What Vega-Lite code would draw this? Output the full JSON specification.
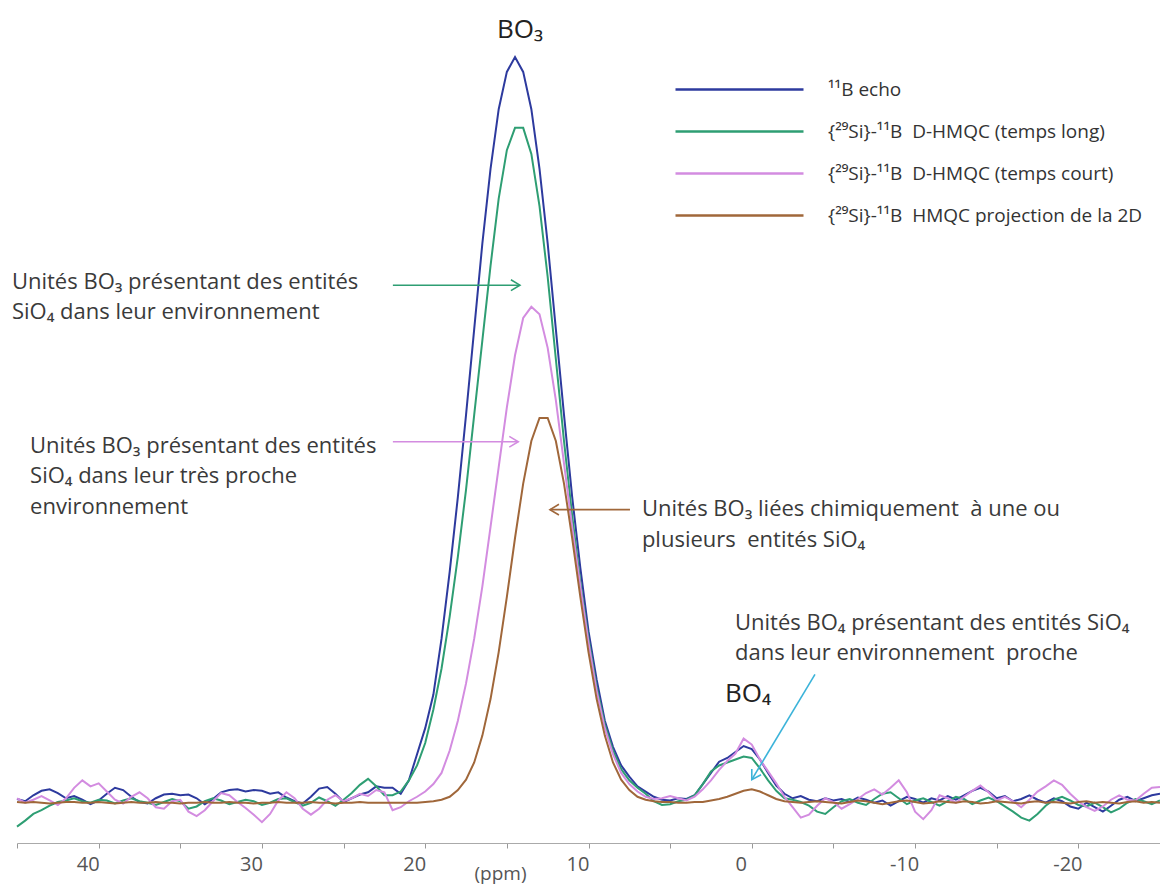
{
  "$schema": "https://vega.github.io/schema/vega-lite/v6.json",
  "width": 1143,
  "height": 833,
  "autosize": {"type": "none"},
  "padding": {"left": 17, "top": 10, "right": 0, "bottom": 41},
  "background": "white",
  "config": {"view": {"stroke": null}, "font": "Open Sans"},
  "datasets": {
    "spec": [
      {"x":45,"e":0.5,"g":-3.2,"p":0.6,"b":0.1},
      {"x":44.5,"e":0.2,"g":-2.4,"p":0.0,"b":0.0},
      {"x":44,"e":1.0,"g":-1.5,"p":0.4,"b":0.1},
      {"x":43.5,"e":1.6,"g":-1.0,"p":0.9,"b":0.0},
      {"x":43,"e":1.8,"g":-0.4,"p":0.3,"b":-0.1},
      {"x":42.5,"e":1.3,"g":0.1,"p":-0.3,"b":0.0},
      {"x":42,"e":0.6,"g":0.3,"p":0.6,"b":0.1},
      {"x":41.5,"e":0.9,"g":0.6,"p":2.0,"b":0.1},
      {"x":41,"e":0.4,"g":0.2,"p":3.0,"b":0.0},
      {"x":40.5,"e":-0.2,"g":0.0,"p":2.2,"b":0.0},
      {"x":40,"e":0.3,"g":0.4,"p":2.6,"b":0.1},
      {"x":39.5,"e":1.2,"g":0.3,"p":1.5,"b":0.0},
      {"x":39,"e":2.0,"g":-0.1,"p":0.4,"b":-0.1},
      {"x":38.5,"e":1.7,"g":0.3,"p":-0.1,"b":0.0},
      {"x":38,"e":0.8,"g":0.6,"p":0.8,"b":0.1},
      {"x":37.5,"e":0.1,"g":0.2,"p":1.4,"b":0.0},
      {"x":37,"e":-0.1,"g":0.0,"p":0.6,"b":0.0},
      {"x":36.5,"e":0.6,"g":-0.3,"p":-0.6,"b":0.1},
      {"x":36,"e":1.1,"g":0.1,"p":-0.8,"b":0.0},
      {"x":35.5,"e":1.2,"g":0.5,"p":0.2,"b":0.0},
      {"x":35,"e":1.0,"g":0.2,"p":0.4,"b":-0.1},
      {"x":34.5,"e":1.1,"g":-0.8,"p":-1.2,"b":0.0},
      {"x":34,"e":0.6,"g":-0.5,"p":-1.8,"b":0.0},
      {"x":33.5,"e":-0.2,"g":0.2,"p":-1.0,"b":0.1},
      {"x":33,"e":0.5,"g":0.6,"p":0.2,"b":0.0},
      {"x":32.5,"e":1.4,"g":0.3,"p":1.3,"b":0.0},
      {"x":32,"e":1.7,"g":-0.2,"p":1.0,"b":0.1},
      {"x":31.5,"e":1.8,"g":0.1,"p":0.1,"b":0.0},
      {"x":31,"e":1.5,"g":0.4,"p":-0.7,"b":0.0},
      {"x":30.5,"e":1.7,"g":0.2,"p":-1.6,"b":-0.1},
      {"x":30,"e":1.6,"g":-0.3,"p":-2.6,"b":0.0},
      {"x":29.5,"e":1.2,"g":0.0,"p":-1.5,"b":0.0},
      {"x":29,"e":1.4,"g":0.5,"p":0.3,"b":0.1},
      {"x":28.5,"e":0.7,"g":0.6,"p":1.4,"b":0.0},
      {"x":28,"e":0.2,"g":0.1,"p":0.6,"b":0.0},
      {"x":27.5,"e":-0.1,"g":-0.4,"p":-0.8,"b":0.0},
      {"x":27,"e":0.8,"g":0.0,"p":-1.6,"b":0.1},
      {"x":26.5,"e":1.9,"g":0.7,"p":-0.8,"b":0.0},
      {"x":26,"e":2.1,"g":0.2,"p":0.4,"b":0.0},
      {"x":25.5,"e":1.2,"g":-0.4,"p":1.0,"b":-0.1},
      {"x":25,"e":0.1,"g":0.4,"p":0.2,"b":0.0},
      {"x":24.5,"e":0.6,"g":1.3,"p":0.6,"b":0.0},
      {"x":24,"e":1.1,"g":2.4,"p":1.2,"b":0.1},
      {"x":23.5,"e":1.4,"g":3.2,"p":0.9,"b":0.0},
      {"x":23,"e":2.2,"g":2.2,"p":1.7,"b":0.0},
      {"x":22.5,"e":2.0,"g":1.0,"p":1.4,"b":0.0},
      {"x":22,"e":2.0,"g":1.0,"p":-1.0,"b":0.0},
      {"x":21.5,"e":1.2,"g":1.5,"p":-0.6,"b":0.0},
      {"x":21,"e":3.0,"g":3.0,"p":0.2,"b":0.0},
      {"x":20.5,"e":6.5,"g":5.0,"p":0.8,"b":0.0},
      {"x":20,"e":10.0,"g":8.0,"p":1.5,"b":0.1},
      {"x":19.5,"e":14.5,"g":12.5,"p":2.5,"b":0.2},
      {"x":19,"e":22.0,"g":18.0,"p":4.0,"b":0.4},
      {"x":18.5,"e":31.0,"g":25.0,"p":7.0,"b":0.8},
      {"x":18,"e":41.0,"g":33.0,"p":11.0,"b":1.7},
      {"x":17.5,"e":52.0,"g":42.0,"p":16.0,"b":3.1},
      {"x":17,"e":63.5,"g":52.0,"p":22.0,"b":5.4},
      {"x":16.5,"e":75.0,"g":62.0,"p":29.0,"b":9.0},
      {"x":16,"e":85.0,"g":72.0,"p":37.0,"b":13.9},
      {"x":15.5,"e":93.0,"g":81.0,"p":45.0,"b":20.2},
      {"x":15,"e":98.0,"g":87.5,"p":53.0,"b":27.6},
      {"x":14.5,"e":100.0,"g":90.5,"p":60.0,"b":35.5},
      {"x":14,"e":98.0,"g":90.5,"p":65.0,"b":42.8},
      {"x":13.5,"e":93.0,"g":87.0,"p":66.5,"b":48.5},
      {"x":13,"e":85.0,"g":80.0,"p":65.5,"b":51.6},
      {"x":12.5,"e":75.0,"g":70.5,"p":61.0,"b":51.6},
      {"x":12,"e":63.5,"g":59.5,"p":54.0,"b":48.5},
      {"x":11.5,"e":52.0,"g":48.5,"p":45.5,"b":42.8},
      {"x":11,"e":41.0,"g":38.5,"p":37.0,"b":35.5},
      {"x":10.5,"e":31.5,"g":29.5,"p":29.0,"b":27.6},
      {"x":10,"e":23.0,"g":22.0,"p":21.5,"b":20.2},
      {"x":9.5,"e":16.5,"g":15.5,"p":15.0,"b":13.9},
      {"x":9,"e":11.0,"g":10.5,"p":10.0,"b":9.0},
      {"x":8.5,"e":7.5,"g":7.0,"p":6.5,"b":5.4},
      {"x":8,"e":5.0,"g":4.5,"p":4.0,"b":3.1},
      {"x":7.5,"e":3.5,"g":3.0,"p":2.5,"b":1.7},
      {"x":7,"e":2.2,"g":2.0,"p":1.5,"b":0.8},
      {"x":6.5,"e":1.5,"g":1.2,"p":0.8,"b":0.4},
      {"x":6,"e":0.8,"g":0.2,"p":0.5,"b":0.2},
      {"x":5.5,"e":0.4,"g":-0.3,"p":0.6,"b":0.1},
      {"x":5,"e":0.3,"g":-0.2,"p":0.9,"b":0.1},
      {"x":4.5,"e":0.6,"g":0.2,"p":0.6,"b":0.0},
      {"x":4,"e":0.5,"g":0.4,"p":0.3,"b":0.0},
      {"x":3.5,"e":1.0,"g":1.0,"p":0.8,"b":0.1},
      {"x":3,"e":2.5,"g":2.5,"p":1.8,"b":0.1},
      {"x":2.5,"e":4.0,"g":4.2,"p":3.0,"b":0.3},
      {"x":2,"e":5.5,"g":5.0,"p":4.4,"b":0.5},
      {"x":1.5,"e":6.0,"g":5.4,"p":5.6,"b":0.8},
      {"x":1,"e":6.8,"g":5.8,"p":6.6,"b":1.2},
      {"x":0.5,"e":7.6,"g":6.2,"p":8.6,"b":1.6},
      {"x":0,"e":7.2,"g":6.0,"p":7.8,"b":1.8},
      {"x":-0.5,"e":5.8,"g":4.6,"p":5.8,"b":1.5},
      {"x":-1,"e":4.0,"g":3.0,"p":4.2,"b":1.0},
      {"x":-1.5,"e":2.3,"g":1.6,"p":2.6,"b":0.5},
      {"x":-2,"e":1.2,"g":0.6,"p":0.8,"b":0.2},
      {"x":-2.5,"e":0.6,"g":0.4,"p":-0.6,"b":0.1},
      {"x":-3,"e":0.9,"g":0.1,"p":-2.0,"b":0.0},
      {"x":-3.5,"e":0.4,"g":-0.4,"p":-1.6,"b":0.1},
      {"x":-4,"e":0.2,"g":-1.2,"p":-0.4,"b":0.2},
      {"x":-4.5,"e":0.6,"g":-1.5,"p":0.6,"b":0.1},
      {"x":-5,"e":0.3,"g":-0.6,"p":0.1,"b":0.0},
      {"x":-5.5,"e":0.5,"g":0.2,"p":-0.8,"b":-0.1},
      {"x":-6,"e":0.1,"g":0.5,"p":-0.2,"b":0.1},
      {"x":-6.5,"e":0.7,"g":0.0,"p":0.5,"b":0.3},
      {"x":-7,"e":0.4,"g":-0.3,"p":1.3,"b":0.2},
      {"x":-7.5,"e":0.0,"g":0.5,"p":1.8,"b":0.0},
      {"x":-8,"e":0.3,"g":1.2,"p":1.1,"b":-0.2},
      {"x":-8.5,"e":-0.4,"g":1.4,"p":2.0,"b":0.0},
      {"x":-9,"e":0.2,"g":0.6,"p":3.0,"b":0.2},
      {"x":-9.5,"e":0.8,"g":-0.2,"p":1.4,"b":0.3},
      {"x":-10,"e":0.5,"g":0.3,"p":-1.2,"b":0.1},
      {"x":-10.5,"e":0.0,"g":0.6,"p":-2.2,"b":-0.1},
      {"x":-11,"e":0.6,"g":0.1,"p":-1.0,"b":0.0},
      {"x":-11.5,"e":0.3,"g":-0.4,"p":1.0,"b":0.2},
      {"x":-12,"e":0.9,"g":0.2,"p":0.6,"b":0.1},
      {"x":-12.5,"e":0.4,"g":0.8,"p":0.0,"b":0.0},
      {"x":-13,"e":1.0,"g":0.5,"p":0.8,"b":0.2},
      {"x":-13.5,"e":1.6,"g":-0.2,"p":1.6,"b":0.1},
      {"x":-14,"e":2.0,"g":0.3,"p":2.3,"b":-0.1},
      {"x":-14.5,"e":1.5,"g":0.7,"p":1.4,"b":0.0},
      {"x":-15,"e":0.6,"g":0.2,"p":0.3,"b":0.2},
      {"x":-15.5,"e":0.9,"g":-0.5,"p":0.8,"b":0.1},
      {"x":-16,"e":0.2,"g":-1.2,"p":0.2,"b":0.0},
      {"x":-16.5,"e":0.5,"g":-2.0,"p":-0.6,"b":-0.1},
      {"x":-17,"e":1.0,"g":-2.4,"p":0.4,"b":0.1},
      {"x":-17.5,"e":0.4,"g":-1.5,"p":1.5,"b":0.2},
      {"x":-18,"e":0.0,"g":-0.4,"p":2.2,"b":0.0},
      {"x":-18.5,"e":0.6,"g":0.4,"p":3.0,"b":0.1},
      {"x":-19,"e":0.2,"g":0.8,"p":2.4,"b":0.0},
      {"x":-19.5,"e":-0.5,"g":0.3,"p":1.2,"b":-0.1},
      {"x":-20,"e":-0.8,"g":-0.3,"p":0.2,"b":0.1},
      {"x":-20.5,"e":0.0,"g":-0.5,"p":-0.6,"b":0.2},
      {"x":-21,"e":-0.6,"g":0.0,"p":-1.1,"b":0.0},
      {"x":-21.5,"e":-1.2,"g":-0.6,"p":-0.5,"b":0.1},
      {"x":-22,"e":-0.4,"g":-1.3,"p":0.4,"b":0.0},
      {"x":-22.5,"e":0.4,"g":-0.8,"p":1.0,"b":-0.1},
      {"x":-23,"e":0.8,"g":0.0,"p":0.4,"b":0.1},
      {"x":-23.5,"e":0.2,"g":0.5,"p":0.3,"b":0.2},
      {"x":-24,"e":0.6,"g":0.2,"p":1.2,"b":0.0},
      {"x":-24.5,"e":1.0,"g":-0.2,"p":2.0,"b":0.1},
      {"x":-25,"e":1.2,"g":0.3,"p":2.1,"b":0.0}
    ],
    "arrows": [
      {"s":"g","x1":21.98,"x2":14.2,"y":69.4},
      {"s":"p","x1":21.98,"x2":14.3,"y":48.4},
      {"s":"b","x1":7.46,"x2":12.36,"y":39.3}
    ],
    "cyan": [
      {"x1":-3.87,"y1":17.2,"x2":0.0,"y2":3.1}
    ],
    "notes": [
      {"x":45.31,"y":68.9,"t":"Unités BO₃ présentant des entités\nSiO₄ dans leur environnement"},
      {"x":44.2,"y":46.9,"t":"Unités BO₃ présentant des entités\nSiO₄ dans leur très proche\nenvironnement"},
      {"x":6.73,"y":38.4,"t":"Unités BO₃ liées chimiquement\u00a0 à une ou\nplusieurs\u00a0 entités SiO₄"},
      {"x":1.03,"y":23.2,"t":"Unités BO₄ présentant des entités SiO₄\ndans leur environnement\u00a0 proche"}
    ],
    "big": [
      {"x":15.6,"y":102.5,"t":"BO₃"},
      {"x":1.64,"y":13.5,"t":"BO₄"}
    ]
  },
  "layer": [
    {
      "data": {"name": "spec"},
      "transform": [{"fold": ["e", "g", "p", "b"], "as": ["series", "value"]}],
      "mark": {"type": "line", "strokeWidth": 2},
      "encoding": {
        "x": {
          "field": "x", "type": "quantitative",
          "scale": {"domain": [-25, 45], "reverse": true, "nice": false, "zero": false},
          "axis": {
            "values": [45, 40, 35, 30, 25, 20, 15, 10, 5, 0, -5, -10, -15, -20],
            "labelExpr": "datum.value % 10 === 0 ? '' + datum.value : ''",
            "labelFontSize": 20, "labelColor": "#555", "labelFont": "Open Sans",
            "labelOffset": -11, "labelPadding": 6, "labelFlush": false, "labelOverlap": false,
            "tickSize": 5, "tickColor": "#999", "domainColor": "#aaa", "domainWidth": 1.2,
            "grid": false,
            "title": "(ppm)", "titleFontSize": 19, "titleFontWeight": "normal", "titleColor": "#555",
            "titleFont": "Open Sans", "titleX": 483, "titleY": 30, "titleBaseline": "middle", "titleAlign": "center"
          }
        },
        "y": {
          "field": "value", "type": "quantitative",
          "scale": {"domain": [-5.4, 106.3], "nice": false, "zero": false},
          "axis": null
        },
        "color": {
          "field": "series", "type": "nominal",
          "scale": {"domain": ["e", "g", "p", "b"], "range": ["#2d3a9e", "#2e9e73", "#d38ce0", "#a0673a"]},
          "legend": {
            "orient": "none", "legendX": 713, "legendY": 70, "title": null,
            "symbolType": "M -16 0 L 16 0", "symbolSize": 64, "symbolStrokeWidth": 2.5,
            "labelFontSize": 19, "labelFont": "Open Sans", "labelColor": "#333",
            "labelOffset": 79, "rowPadding": 22, "padding": 0, "labelLimit": 500,
            "labelExpr": "{'e': '¹¹B echo', 'g': '{²⁹Si}-¹¹B\u00a0 D-HMQC (temps long)', 'p': '{²⁹Si}-¹¹B\u00a0 D-HMQC (temps court)', 'b': '{²⁹Si}-¹¹B\u00a0 HMQC projection de la 2D'}[datum.label]"
          }
        }
      }
    },
    {
      "data": {"name": "arrows"},
      "mark": {"type": "rule", "strokeWidth": 1.6},
      "encoding": {
        "x": {"field": "x1", "type": "quantitative", "scale": {"domain": [-25, 45], "reverse": true, "nice": false, "zero": false}},
        "x2": {"field": "x2"},
        "y": {"field": "y", "type": "quantitative", "scale": {"domain": [-5.4, 106.3], "nice": false, "zero": false}, "axis": null},
        "color": {"field": "s", "type": "nominal", "scale": {"domain": ["e", "g", "p", "b"], "range": ["#2d3a9e", "#2e9e73", "#d38ce0", "#a0673a"]}, "legend": null}
      }
    },
    {
      "data": {"name": "arrows"},
      "mark": {"type": "point", "shape": "M -1 -0.6 L 0 0 L -1 0.6", "filled": false, "size": 324, "strokeWidth": 1.6, "opacity": 1},
      "encoding": {
        "x": {"field": "x2", "type": "quantitative", "scale": {"domain": [-25, 45], "reverse": true, "nice": false, "zero": false}},
        "y": {"field": "y", "type": "quantitative", "scale": {"domain": [-5.4, 106.3], "nice": false, "zero": false}, "axis": null},
        "angle": {"condition": {"test": "datum.x2 > datum.x1", "value": 180}, "value": 0},
        "color": {"field": "s", "type": "nominal", "scale": {"domain": ["e", "g", "p", "b"], "range": ["#2d3a9e", "#2e9e73", "#d38ce0", "#a0673a"]}, "legend": null}
      }
    },
    {
      "data": {"name": "cyan"},
      "mark": {"type": "rule", "strokeWidth": 1.6, "color": "#3bb3d9"},
      "encoding": {
        "x": {"field": "x1", "type": "quantitative", "scale": {"domain": [-25, 45], "reverse": true, "nice": false, "zero": false}},
        "x2": {"field": "x2"},
        "y": {"field": "y1", "type": "quantitative", "scale": {"domain": [-5.4, 106.3], "nice": false, "zero": false}, "axis": null},
        "y2": {"field": "y2"}
      }
    },
    {
      "data": {"name": "cyan"},
      "mark": {"type": "point", "shape": "M -1 -0.6 L 0 0 L -1 0.6", "filled": false, "size": 324, "strokeWidth": 1.6, "opacity": 1, "color": "#3bb3d9", "angle": 121},
      "encoding": {
        "x": {"field": "x2", "type": "quantitative", "scale": {"domain": [-25, 45], "reverse": true, "nice": false, "zero": false}},
        "y": {"field": "y2", "type": "quantitative", "scale": {"domain": [-5.4, 106.3], "nice": false, "zero": false}, "axis": null}
      }
    },
    {
      "data": {"name": "notes"},
      "mark": {"type": "text", "align": "left", "baseline": "alphabetic", "fontSize": 22, "lineHeight": 30.5, "font": "Open Sans", "color": "#3a3a3a", "lineBreak": "\n"},
      "encoding": {
        "x": {"field": "x", "type": "quantitative", "scale": {"domain": [-25, 45], "reverse": true, "nice": false, "zero": false}},
        "y": {"field": "y", "type": "quantitative", "scale": {"domain": [-5.4, 106.3], "nice": false, "zero": false}, "axis": null},
        "text": {"field": "t"}
      }
    },
    {
      "data": {"name": "big"},
      "mark": {"type": "text", "align": "left", "baseline": "alphabetic", "fontSize": 26, "font": "Open Sans", "color": "#222"},
      "encoding": {
        "x": {"field": "x", "type": "quantitative", "scale": {"domain": [-25, 45], "reverse": true, "nice": false, "zero": false}},
        "y": {"field": "y", "type": "quantitative", "scale": {"domain": [-5.4, 106.3], "nice": false, "zero": false}, "axis": null},
        "text": {"field": "t"}
      }
    }
  ]
}
